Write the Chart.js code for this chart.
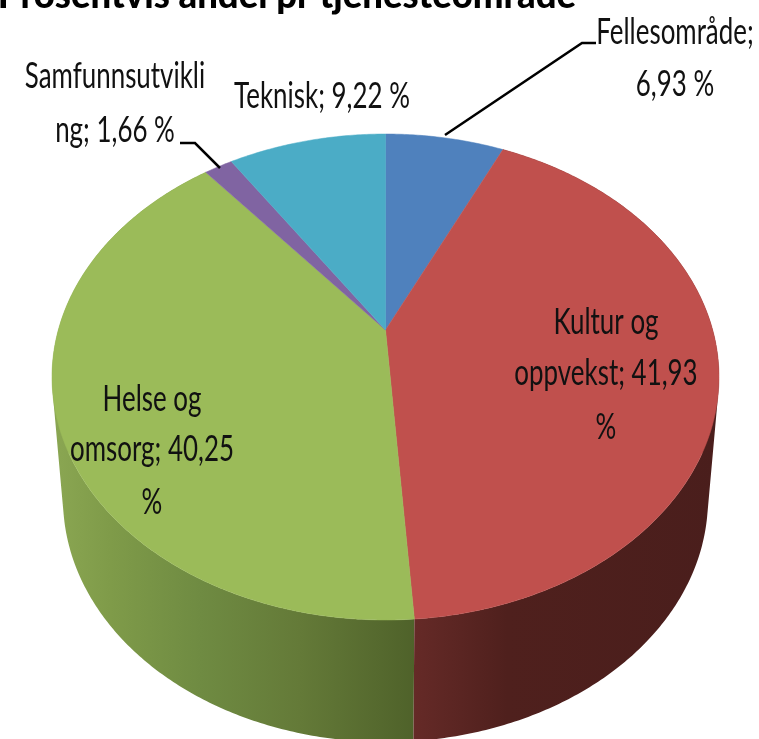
<!DOCTYPE html>
<html><head><meta charset="utf-8">
<style>html,body{margin:0;padding:0;background:#fff}canvas{display:block}</style>
<script src="https://cdn.jsdelivr.net/npm/chart.js@4/dist/chart.umd.min.js"></script>
</head><body><canvas id="c" width="759" height="739"></canvas>
<script>
const titleText = "Prosentvis andel pr tjenesteområde";
const categories = ["Fellesområde","Kultur og oppvekst","Helse og omsorg","Samfunnsutvikling","Teknisk"];
const values = [6.93,41.93,40.25,1.66,9.22];
const topColors = ["#4F81BD","#C0504D","#9BBB59","#8064A2","#4BACC6"];
const labelLines = [
  ["Fellesområde;","6,93 %"],
  ["Kultur og","oppvekst; 41,93","%"],
  ["Helse og","omsorg; 40,25","%"],
  ["Samfunnsutvikli","ng; 1,66 %"],
  ["Teknisk; 9,22 %"]
];
const labelSpots = [[675,[44,96]],[606,[334,385,439]],[152,[411,461,514]],[115,[88,142]],[322,[108]]];
const leaders = [[[445,135],[582,43],[596,43]],[[180,143],[195,143],[220,168]]];
const FONT = 'Lato';
const XS = 0.72;
const CX=385.5, CY=330, A=327.2, B=233.9, P=0.1934;
const DEPTH=122, BOTTOM_SCALE=0.967;

function project(theta){
  const u=Math.sin(theta), v=-Math.cos(theta), w=1-P*v;
  return [CX+A*u/w, CY+B*v/w];
}
function lower(p){ return [CX+(p[0]-CX)*BOTTOM_SCALE, p[1]+DEPTH]; }
function arcPts(a0,a1){
  const n=Math.max(2,Math.ceil((a1-a0)/0.01)), pts=[];
  for(let i=0;i<=n;i++) pts.push(project(a0+(a1-a0)*i/n));
  return pts;
}
function sideGradient(ctx,stops){
  const g=ctx.createLinearGradient(55,0,720,0);
  stops.forEach(s=>g.addColorStop(s[0],s[1]));
  return g;
}
const sideStops = {
  1:[[0.54,"#652a27"],[0.68,"#4f201d"],[1,"#4a1e1c"]],
  2:[[0,"#8aa652"],[0.083,"#7f9b49"],[0.218,"#6f8b42"],[0.368,"#647a38"],[0.54,"#4f622a"]]
};
function text(ctx,s,cx,y,font,xs){
  ctx.save();ctx.translate(cx,y);ctx.scale(xs,1);
  ctx.font=font;ctx.textAlign="center";ctx.textBaseline="alphabetic";
  ctx.fillText(s,0,0);ctx.restore();
}
function quadArea(q){
  let a=0;
  q.forEach((p,i)=>{const n=q[(i+1)%4];a+=p[0]*n[1]-n[0]*p[1];});
  return a;
}
const pie3d={
  id:"pie3d",
  beforeDatasetsDraw(chart){
    const ctx=chart.ctx, arcs=chart.getDatasetMeta(0).data;
    const ang=i=>[arcs[i].startAngle+Math.PI/2, arcs[i].endAngle+Math.PI/2];
    // side walls: thin quads, same winding, one path, so there are no seams or holes
    [2,1].forEach(i=>{
      const [a,b]=ang(i), pts=arcPts(a,b);
      ctx.beginPath();
      for(let k=0;k<pts.length-1;k++){
        let q=[pts[k],pts[k+1],lower(pts[k+1]),lower(pts[k])];
        if(quadArea(q)<0) q=q.reverse();
        q.forEach((p,j)=>j?ctx.lineTo(p[0],p[1]):ctx.moveTo(p[0],p[1]));
        ctx.closePath();
      }
      ctx.fillStyle=sideGradient(ctx,sideStops[i]);
      ctx.fill("nonzero");
    });
    // top faces
    arcs.forEach((el,i)=>{
      const [a,b]=ang(i), pts=arcPts(a,b);
      ctx.beginPath();ctx.moveTo(CX,CY);
      pts.forEach(p=>ctx.lineTo(p[0],p[1]));
      ctx.closePath();
      ctx.fillStyle=topColors[i];ctx.fill();
      ctx.strokeStyle=topColors[i];ctx.lineWidth=0.5;ctx.stroke();
    });
    return false;
  },
  afterDraw(chart){
    const ctx=chart.ctx;
    ctx.fillStyle="#000";
    text(ctx,titleText,287,8,'900 38px '+FONT,0.96);
    ctx.fillStyle="#111";
    labelLines.forEach((lines,i)=>{
      lines.forEach((s,k)=>text(ctx,s,labelSpots[i][0],labelSpots[i][1][k],'36px '+FONT,XS));
    });
    ctx.strokeStyle="#000";ctx.lineWidth=2.5;
    leaders.forEach(l=>{
      ctx.beginPath();
      l.forEach((p,k)=>k?ctx.lineTo(p[0],p[1]):ctx.moveTo(p[0],p[1]));
      ctx.stroke();
    });
  }
};
new Chart(document.getElementById("c"),{
  type:"pie",
  data:{labels:categories,datasets:[{data:values,backgroundColor:topColors,borderWidth:0}]},
  options:{responsive:false,animation:false,
    plugins:{legend:{display:false},tooltip:{enabled:false},title:{display:false}}},
  plugins:[pie3d]
});
</script></body></html>
